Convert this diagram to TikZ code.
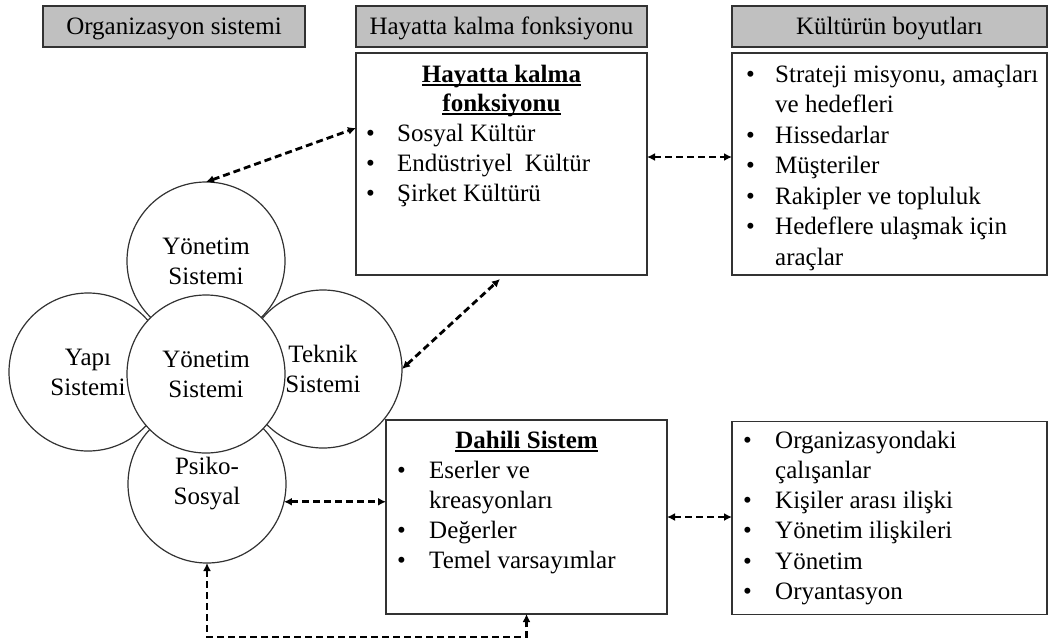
\documentclass[tikz,border=0pt]{standalone}
\usepackage{fontspec}
\setmainfont{Liberation Serif}
\usetikzlibrary{arrows.meta,calc}
\definecolor{hdrgray}{RGB}{192,192,192}
\definecolor{edge}{RGB}{50,50,50}
\newcommand\bigtxt{\fontsize{25}{30}\selectfont}
% underline drawn just below the baseline, crossing the descenders
\newcommand\ulin[1]{\setbox0\hbox{#1}\rlap{\rule[-3.5pt]{\wd0}{1.8pt}}\box0}

\begin{document}
\begin{tikzpicture}[x=1pt,y=-1pt,
  hdr/.style={draw=edge, line width=1.8pt, fill=hdrgray, inner sep=0pt, outer sep=0pt,
              minimum height=41pt, text height=20pt, text depth=4pt, font=\bigtxt},
  panel/.style={draw=edge, line width=1.6pt, inner sep=0pt, outer sep=0pt},
  petal/.style={circle, draw=edge, line width=1.2pt, fill=white, minimum size=158pt,
                inner sep=0pt, outer sep=0pt, align=center, font=\bigtxt},
  itm/.style={anchor=base west, inner sep=0pt, font=\bigtxt},
  ttl/.style={anchor=base, inner sep=0pt, font=\bigtxt\bfseries},
  link/.style={line width=2.8pt, dash pattern=on 7pt off 4pt,
               {Latex[length=8pt,width=8pt]}-{Latex[length=8pt,width=8pt]}},
]
\fill[white] (0,0) rectangle (1049,641);
\useasboundingbox (0,0) rectangle (1049,641);

% column headers
\node[hdr, minimum width=262pt] (h1) at (174,26.5) {Organizasyon sistemi};
\node[hdr, minimum width=291pt] (h2) at (501.5,26.5) {Hayatta kalma fonksiyonu};
\node[hdr, minimum width=315pt] (h3) at (889.5,26.5) {Kültürün boyutları};

% panels
\node[panel, minimum width=291pt, minimum height=222pt] (hk) at (501.5,164) {};
\node[panel, minimum width=315pt, minimum height=222pt] (kb) at (889.5,164) {};
\node[panel, minimum width=281pt, minimum height=194pt] (dh) at (526.5,517) {};
\node[panel, minimum width=315pt, minimum height=193pt] (cs) at (889.5,518) {};

% the flower of subsystems
\node[petal] (ptop) at (206,261) {Yönetim\\Sistemi};
\node[petal] (pleft) at (88,372) {Yapı\\Sistemi};
\node[petal] (pright) at (323,369) {Teknik\\Sistemi};
\node[petal] (pbot) at (207,484) {Psiko-\\Sosyal};
\node[petal] (pmid) at (206,374) {Yönetim\\Sistemi};

% survival function panel
\node[ttl] (hkt1) at (501.5,82) {\ulin{Hayatta kalma}};
\node[ttl] (hkt2) at (501.5,111) {\ulin{fonksiyonu}};
\foreach \txt [count=\i from 0] in {Sosyal Kültür, Endüstriyel\ \ Kültür, Şirket Kültürü} {
  \node[itm] (hkb\i) at (366,141.5+30*\i) {•};
  \node[itm] (hki\i) at (397,141.5+30*\i) {\txt};
}

% culture dimensions panel
\foreach \bl/\txt [count=\i from 0] in {1/{Strateji misyonu, amaçları}, 0/{ve hedefleri},
    1/Hissedarlar, 1/Müşteriler, 1/{Rakipler ve topluluk}, 1/{Hedeflere ulaşmak için}, 0/araçlar} {
  \ifnum\bl=1 \node[itm] (kbb\i) at (746,82+30.5*\i) {•};\fi
  \node[itm] (kbi\i) at (775,82+30.5*\i) {\txt};
}

% internal system panel
\node[ttl] (dht) at (526.5,448) {\ulin{Dahili Sistem}};
\foreach \bl/\txt [count=\i from 0] in {1/{Eserler ve}, 0/kreasyonları, 1/Değerler, 1/{Temel varsayımlar}} {
  \ifnum\bl=1 \node[itm] (dhb\i) at (397,478+30*\i) {•};\fi
  \node[itm] (dhi\i) at (429,478+30*\i) {\txt};
}

% people panel
\foreach \bl/\txt [count=\i from 0] in {1/Organizasyondaki, 0/çalışanlar, 1/{Kişiler arası ilişki},
    1/{Yönetim ilişkileri}, 1/Yönetim, 1/Oryantasyon} {
  \ifnum\bl=1 \node[itm] (csb\i) at (743,448+30.3*\i) {•};\fi
  \node[itm] (csi\i) at (775,448+30.3*\i) {\txt};
}

% dashed two-way links
\draw[link] (ptop.north) -- ([yshift=-75pt]hk.north west);
\draw[link] (pright.east) -- ([xshift=144pt,yshift=-4pt]hk.south west);
\draw[link] ([yshift=7pt]hk.east) -- ([yshift=7pt]kb.west);
\draw[link] (pbot.-13) -- (pbot.-13 -| dh.west);
\draw[link] (dh.east) -- (dh.east -| cs.west);
\draw[link] (pbot.south) |- ($(dh.south)+(0,23)$) -- (dh.south);
\end{tikzpicture}
\end{document}
